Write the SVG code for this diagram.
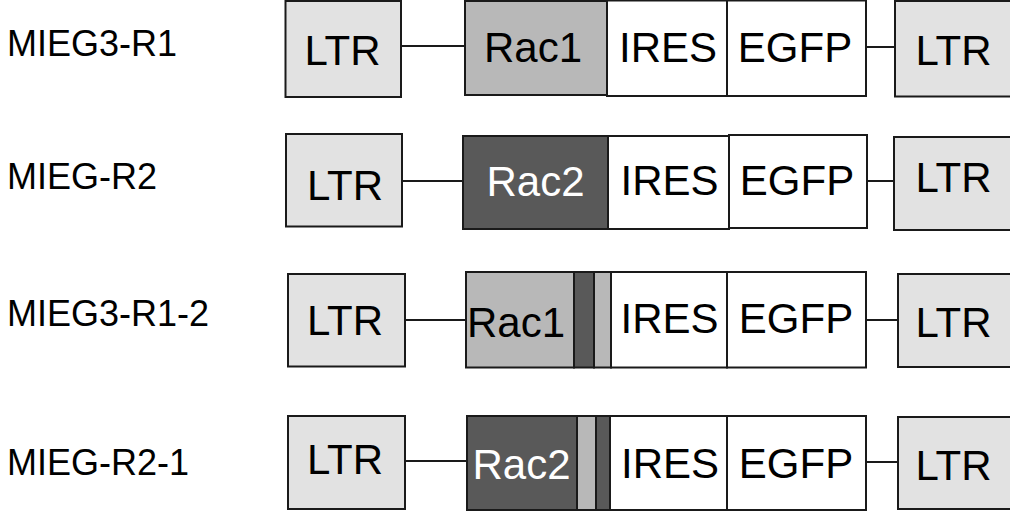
<svg xmlns="http://www.w3.org/2000/svg" width="1010" height="511" viewBox="0 0 1010 511">
  <style>
    .bx{stroke:#1a1a1a;stroke-width:2}
    .ltr{fill:#e2e2e2}
    .r1{fill:#b8b8b8}
    .r2{fill:#595959}
    .wt{fill:#ffffff}
    .ln{stroke:#1a1a1a;stroke-width:2;fill:none}
    text{font-family:"Liberation Sans",Arial,sans-serif;fill:#000}
    .lbl{font-size:36px}
    .t{font-size:42px;text-anchor:middle}
    .tw{fill:#ffffff}
  </style>
  <rect width="1010" height="511" fill="#ffffff"/>

  <!-- construct names -->
  <g id="labels">
    <text class="lbl" x="7" y="56">MIEG3-R1</text>
    <text class="lbl" x="7" y="189">MIEG-R2</text>
    <text class="lbl" x="7" y="326">MIEG3-R1-2</text>
    <text class="lbl" x="7" y="475">MIEG-R2-1</text>
  </g>

  <!-- backbone lines between elements -->
  <g id="connectors">
    <line class="ln" x1="401" y1="46" x2="465" y2="46"/>
    <line class="ln" x1="866" y1="47" x2="895" y2="47"/>
    <line class="ln" x1="402" y1="181" x2="463" y2="181"/>
    <line class="ln" x1="867" y1="181" x2="894" y2="181"/>
    <line class="ln" x1="405" y1="320" x2="466" y2="320"/>
    <line class="ln" x1="866" y1="320" x2="898" y2="320"/>
    <line class="ln" x1="405" y1="461" x2="467" y2="461"/>
    <line class="ln" x1="866" y1="462" x2="898" y2="462"/>
  </g>

  <!-- MIEG3-R1 -->
  <g id="row1-ltr5"><rect class="bx ltr" x="285.5" y="1" width="115.5" height="96"/><text class="t" x="342.5" y="65">LTR</text></g>
  <g id="row1-rac1"><rect class="bx r1" x="465" y="1" width="142" height="94"/><text class="t" x="533" y="62">Rac1</text></g>
  <g id="row1-ires"><rect class="bx wt" x="607" y="0.5" width="120.5" height="95.5"/><text class="t" x="668" y="62">IRES</text></g>
  <g id="row1-egfp"><rect class="bx wt" x="727" y="0.5" width="139" height="95.5"/><text class="t" x="795" y="62">EGFP</text></g>
  <g id="row1-ltr3"><rect class="bx ltr" x="895" y="1" width="130" height="95.5"/><text class="t" x="953.5" y="65">LTR</text></g>

  <!-- MIEG-R2 -->
  <g id="row2-ltr5"><rect class="bx ltr" x="286" y="134" width="116" height="92.5"/><text class="t" x="345" y="200">LTR</text></g>
  <g id="row2-rac2"><rect class="bx r2" x="463" y="136" width="145" height="93"/><text class="t tw" x="535.5" y="196">Rac2</text></g>
  <g id="row2-ires"><rect class="bx wt" x="608" y="136" width="121" height="93"/><text class="t" x="669.5" y="195">IRES</text></g>
  <g id="row2-egfp"><rect class="bx wt" x="729" y="135" width="138" height="93"/><text class="t" x="797" y="195">EGFP</text></g>
  <g id="row2-ltr3"><rect class="bx ltr" x="894" y="137" width="130" height="93"/><text class="t" x="953.5" y="192">LTR</text></g>

  <!-- MIEG3-R1-2 -->
  <g id="row3-ltr5"><rect class="bx ltr" x="288" y="274" width="117" height="92.5"/><text class="t" x="345" y="335">LTR</text></g>
  <g id="row3-rac1">
    <rect class="bx r1" x="466" y="272" width="108" height="95.5"/>
    <rect class="bx r2" x="574" y="272" width="20" height="95.5"/>
    <rect class="bx r1" x="594" y="272" width="17" height="95.5"/>
    <text class="t" x="516" y="337">Rac1</text>
  </g>
  <g id="row3-ires"><rect class="bx wt" x="611" y="272" width="116" height="95.5"/><text class="t" x="669.5" y="333">IRES</text></g>
  <g id="row3-egfp"><rect class="bx wt" x="727" y="272" width="139" height="95.5"/><text class="t" x="796" y="333">EGFP</text></g>
  <g id="row3-ltr3"><rect class="bx ltr" x="898" y="274" width="130" height="93"/><text class="t" x="953.5" y="337">LTR</text></g>

  <!-- MIEG-R2-1 -->
  <g id="row4-ltr5"><rect class="bx ltr" x="288" y="416" width="117" height="93"/><text class="t" x="345" y="474">LTR</text></g>
  <g id="row4-rac2">
    <rect class="bx r2" x="467" y="416" width="110" height="94"/>
    <rect class="bx r1" x="577" y="416" width="19" height="94"/>
    <rect class="bx r2" x="596" y="416" width="14" height="94"/>
    <text class="t tw" x="521.5" y="479">Rac2</text>
  </g>
  <g id="row4-ires"><rect class="bx wt" x="610" y="416" width="117" height="94"/><text class="t" x="670" y="478">IRES</text></g>
  <g id="row4-egfp"><rect class="bx wt" x="727" y="416" width="139" height="94"/><text class="t" x="796" y="478">EGFP</text></g>
  <g id="row4-ltr3"><rect class="bx ltr" x="898" y="417" width="130" height="92"/><text class="t" x="953.5" y="480">LTR</text></g>
</svg>
